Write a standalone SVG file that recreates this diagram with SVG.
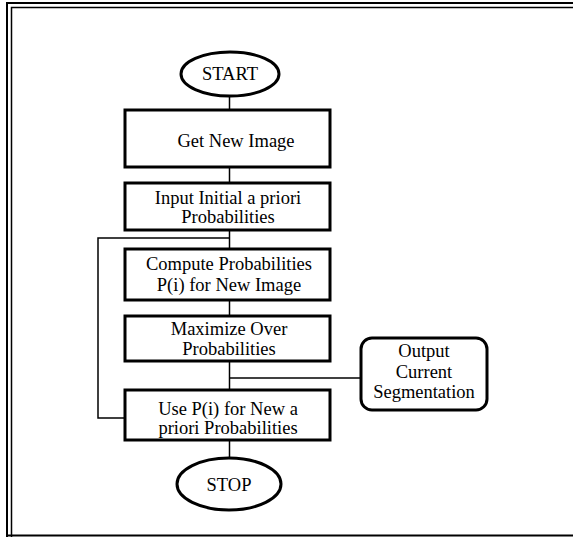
<svg xmlns="http://www.w3.org/2000/svg" width="573" height="537" viewBox="0 0 573 537">
<style>
.box{fill:#fff;stroke:#000;stroke-width:3}
.term{fill:#fff;stroke:#000;stroke-width:3}
.con{fill:none;stroke:#000;stroke-width:1.5}
.frame{fill:none;stroke:#000}
text{font-family:"Liberation Serif","Times New Roman",serif;font-size:18.5px;fill:#000;text-anchor:middle}
</style>
<rect width="573" height="537" fill="#fff"/>
<g id="frame">
<path class="frame" stroke-width="2" d="M7 537V3H573"/>
<path class="frame" stroke-width="1.5" d="M11.5 537V7.5H573"/>
<path class="frame" stroke-width="2" d="M7 535.5H573"/>
</g>
<g id="connectors">
<path class="con" d="M229.5 96V110"/>
<path class="con" d="M229.5 167V183"/>
<path class="con" d="M229.5 230V249"/>
<path class="con" d="M229.5 238H98V418H124"/>
<path class="con" d="M229.5 300V316"/>
<path class="con" d="M229.5 361V390"/>
<path class="con" d="M229.5 378H360"/>
<path class="con" d="M229.5 440V458"/>
</g>
<g id="start">
<ellipse class="term" cx="230" cy="74" rx="49" ry="22"/>
<text x="230" y="80">START</text>
</g>
<g id="get-new-image">
<rect class="box" x="125" y="110" width="205" height="57"/>
<text x="236" y="147">Get New Image</text>
</g>
<g id="input-initial">
<rect class="box" x="125" y="183" width="205" height="47"/>
<text x="228" y="204">Input Initial a priori</text>
<text x="228" y="223">Probabilities</text>
</g>
<g id="compute">
<rect class="box" x="125" y="249" width="205" height="51"/>
<text x="229" y="270">Compute Probabilities</text>
<text x="229" y="291">P(i) for New Image</text>
</g>
<g id="maximize">
<rect class="box" x="125" y="316" width="205" height="45"/>
<text x="229" y="335">Maximize Over</text>
<text x="229" y="355">Probabilities</text>
</g>
<g id="use-pi">
<rect class="box" x="125" y="390" width="205" height="50"/>
<text x="228" y="415">Use P(i) for New a</text>
<text x="228" y="434">priori Probabilities</text>
</g>
<g id="output">
<rect class="box" x="361" y="338" width="126" height="72" rx="11" ry="11"/>
<text x="424" y="357">Output</text>
<text x="424" y="378">Current</text>
<text x="424" y="398">Segmentation</text>
</g>
<g id="stop">
<ellipse class="term" cx="229" cy="484" rx="52" ry="26"/>
<text x="229" y="491">STOP</text>
</g>
</svg>
